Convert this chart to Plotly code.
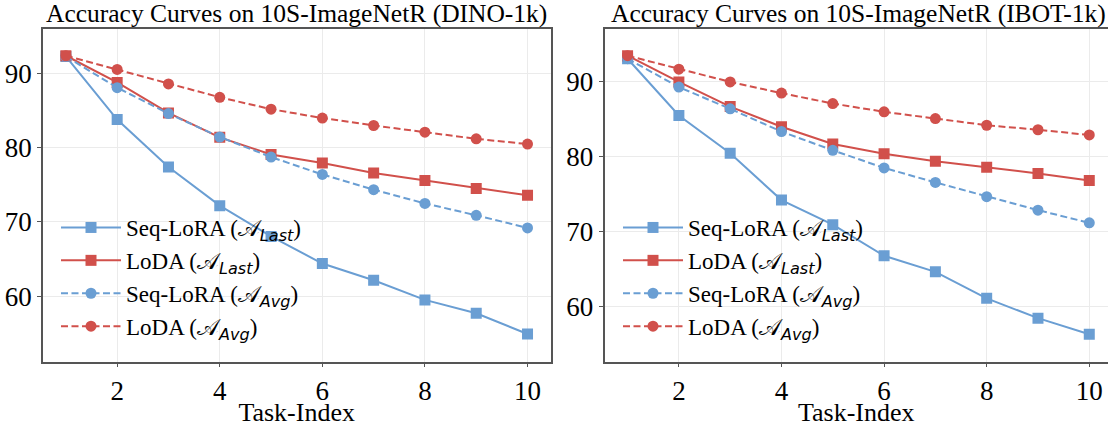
import plotly.graph_objects as go

tasks = [1, 2, 3, 4, 5, 6, 7, 8, 9, 10]

# DINO-1k
dino_seq_last = [92.3, 83.8, 77.4, 72.2, 68.05, 64.4, 62.15, 59.5, 57.7, 54.9]
dino_loda_last = [92.4, 88.8, 84.7, 81.4, 79.1, 77.95, 76.6, 75.6, 74.5, 73.6]
dino_seq_avg = [92.3, 88.1, 84.6, 81.45, 78.75, 76.4, 74.35, 72.5, 70.9, 69.2]
dino_loda_avg = [92.4, 90.55, 88.6, 86.8, 85.2, 84.0, 83.0, 82.1, 81.2, 80.5]

# IBOT-1k
ibot_seq_last = [93.1, 85.5, 80.45, 74.2, 70.9, 66.75, 64.6, 61.05, 58.4, 56.25]
ibot_loda_last = [93.5, 90.0, 86.7, 84.0, 81.7, 80.4, 79.4, 78.6, 77.75, 76.8]
ibot_seq_avg = [93.1, 89.3, 86.4, 83.35, 80.85, 78.5, 76.55, 74.65, 72.85, 71.15]
ibot_loda_avg = [93.5, 91.7, 90.0, 88.5, 87.1, 86.0, 85.1, 84.2, 83.6, 82.9]

titles = ["Accuracy Curves on 10S-ImageNetR (DINO-1k)",
          "Accuracy Curves on 10S-ImageNetR (IBOT-1k)"]
x_label = "Task-Index"
x_ticks = [2, 4, 6, 8, 10]
y_ticks = [60, 70, 80, 90]

BLUE = "#6A9ED3"
RED = "#D1504B"
SUB = '<span style="font-family:\'DejaVu Sans\'"><i>%s</i></span>'
SCRIPT_A = '<span style="font-family:\'DejaVu Sans\'">\U0001D49C</span>'
names = [
    "Seq-LoRA (" + SCRIPT_A + "<sub>" + SUB % "Last" + "</sub>)",
    "LoDA (" + SCRIPT_A + "<sub>" + SUB % "Last" + "</sub>)",
    "Seq-LoRA (" + SCRIPT_A + "<sub>" + SUB % "Avg" + "</sub>)",
    "LoDA (" + SCRIPT_A + "<sub>" + SUB % "Avg" + "</sub>)",
]
styles = [(BLUE, "square", "solid"), (RED, "square", "solid"),
          (BLUE, "circle", "7px,3.5px"), (RED, "circle", "7px,3.5px")]

datasets = [
    [dino_seq_last, dino_loda_last, dino_seq_avg, dino_loda_avg],
    [ibot_seq_last, ibot_loda_last, ibot_seq_avg, ibot_loda_avg],
]

FONT = "Liberation Serif"
fig = go.Figure()

W, H = 1108, 427
xdomains = [[42.8 / W, 550.6 / W], [604.5 / W, 1.0]]
xranges = [[0.55, 10.45], [0.55, 10.365]]
yranges = [[51.17, 96.03], [52.58, 97.1]]
ydom = [1 - 361.7 / H, 1 - 28.8 / H]
legend_x = [56 / W, 618 / W]

for p in range(2):
    xa = "x" if p == 0 else "x2"
    ya = "y" if p == 0 else "y2"
    lg = "legend" if p == 0 else "legend2"
    for i, (vals, (col, sym, dash)) in enumerate(zip(datasets[p], styles)):
        fig.add_trace(go.Scatter(
            x=tasks, y=vals, mode="lines+markers", name=names[i],
            line=dict(color=col, width=2, dash=dash),
            marker=dict(symbol=sym, size=11, color=col),
            xaxis=xa, yaxis=ya, legend=lg, legendgroup="g%d_%d" % (p, i),
        ))

axis_common = dict(
    showgrid=True, gridcolor="#EBEBEB", gridwidth=1,
    showline=True, linecolor="#555555", linewidth=1.5,
    ticks="outside", ticklen=4, tickcolor="#555555", tickwidth=1.2,
    tickfont=dict(family=FONT, size=27, color="black"),
    zeroline=False,
)

layout = dict(
    width=W, height=H,
    margin=dict(l=0, r=0, t=0, b=0),
    paper_bgcolor="white", plot_bgcolor="white",
    font=dict(family=FONT, color="black"),
    showlegend=True,
)
for p in range(2):
    sx = "" if p == 0 else "2"
    layout["xaxis" + sx] = dict(
        axis_common, domain=xdomains[p], range=xranges[p], tickvals=x_ticks,
        anchor="y" + sx, mirror=True,
        title=dict(text=x_label, font=dict(family=FONT, size=26), standoff=0),
    )
    layout["yaxis" + sx] = dict(
        axis_common, domain=ydom, range=yranges[p], tickvals=y_ticks,
        anchor="x" + sx, mirror=(p == 0),
    )
    layout["legend" if p == 0 else "legend2"] = dict(
        x=legend_x[p], y=1 - 206 / H, xanchor="left", yanchor="top",
        font=dict(family=FONT, size=23, color="black"),
        bgcolor="rgba(0,0,0,0)", borderwidth=0,
        itemwidth=60, traceorder="grouped", tracegroupgap=0,
    )

fig.update_layout(**layout)

centers = [(42.8 + 550.6) / 2 / W, (604.5 + 1112) / 2 / W]
for p in range(2):
    fig.add_annotation(
        text=titles[p], x=centers[p], y=1 - 13 / H, xref="paper", yref="paper",
        xanchor="center", yanchor="middle", showarrow=False,
        font=dict(family=FONT, size=25.5, color="black"),
    )

fig.write_html("out.html", config={"displayModeBar": False},
               post_script="document.body.style.margin='0';")
